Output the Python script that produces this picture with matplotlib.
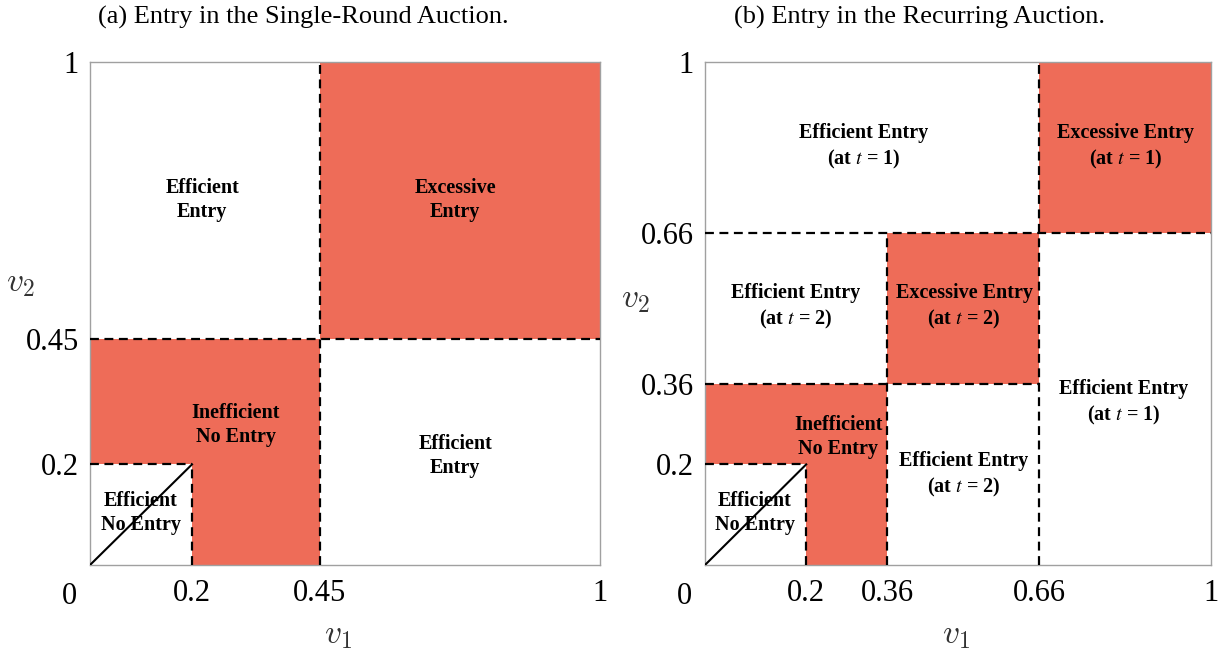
import matplotlib
matplotlib.use("Agg")
import matplotlib.pyplot as plt
from matplotlib.patches import Rectangle

plt.rcParams['font.family'] = ['Liberation Serif', 'DejaVu Serif']
plt.rcParams['mathtext.fontset'] = 'stix'

# thresholds
single_cut_low = 0.2
single_cut_high = 0.45
rec_cut_low = 0.2
rec_cut_mid = 0.36
rec_cut_high = 0.66

titles = ["(a) Entry in the Single-Round Auction.", "(b) Entry in the Recurring Auction."]
left_ticks = [0.2, 0.45, 1]
left_ticklabels = ["0.2", "0.45", "1"]
right_ticks = [0.2, 0.36, 0.66, 1]
right_ticklabels = ["0.2", "0.36", "0.66", "1"]

left_labels = [
    ("Efficient\nEntry", 0.22, 0.726),
    ("Excessive\nEntry", 0.716, 0.726),
    ("Inefficient\nNo Entry", 0.286, 0.278),
    ("Efficient\nEntry", 0.716, 0.217),
    ("Efficient\nNo Entry", 0.10, 0.103),
]
right_labels = [
    ("Efficient Entry\n(at $t$ = 1)", 0.314, 0.831),
    ("Excessive Entry\n(at $t$ = 1)", 0.832, 0.831),
    ("Efficient Entry\n(at $t$ = 2)", 0.18, 0.513),
    ("Excessive Entry\n(at $t$ = 2)", 0.512, 0.513),
    ("Efficient Entry\n(at $t$ = 1)", 0.828, 0.322),
    ("Inefficient\nNo Entry", 0.263, 0.254),
    ("Efficient Entry\n(at $t$ = 2)", 0.512, 0.179),
    ("Efficient\nNo Entry", 0.099, 0.103),
]

RED = "#EE6C58"
DASH = (0, (4, 2.5))
LW = 1.6
TICKFS = 22
LABFS = 14.5

fig = plt.figure(figsize=(12.25, 6.52), dpi=100)
axL = fig.add_axes([90/1225, 87/652, 510/1225, 503/652])
axR = fig.add_axes([705/1225, 87/652, 506/1225, 503/652])

def setup(ax, ticks, ticklabels, v1pos, v2pos):
    ax.set_xlim(0, 1)
    ax.set_ylim(0, 1)
    ax.set_xticks(ticks)
    ax.set_xticklabels(ticklabels, fontsize=TICKFS)
    ax.set_yticks(ticks)
    ax.set_yticklabels(ticklabels, fontsize=TICKFS)
    ax.tick_params(axis='x', length=0, pad=10)
    ax.tick_params(axis='y', length=0, pad=8)
    for s in ax.spines.values():
        s.set_color("#A0A0A0")
        s.set_linewidth(1.0)
    ax.text(-0.04, -0.062, "0", transform=ax.transAxes, fontsize=TICKFS,
            ha='center', va='center')
    ax.text(v1pos[0], v1pos[1], "$v_1$", transform=ax.transAxes, fontsize=24,
            ha='center', va='center', math_fontfamily='cm', color='#333333')
    ax.text(v2pos[0], v2pos[1], "$v_2$", transform=ax.transAxes, fontsize=24,
            ha='center', va='center', math_fontfamily='cm', color='#333333')

def rect(ax, x0, x1, y0, y1):
    ax.add_patch(Rectangle((x0, y0), x1 - x0, y1 - y0, facecolor=RED,
                           edgecolor='none', zorder=1))

def hdash(ax, y, x0, x1):
    ax.plot([x0, x1], [y, y], color='black', lw=LW, linestyle=DASH, zorder=3,
            clip_on=False)

def vdash(ax, x, y0, y1):
    ax.plot([x, x], [y0, y1], color='black', lw=LW, linestyle=DASH, zorder=3,
            clip_on=False)

# Left panel
setup(axL, left_ticks, left_ticklabels, (0.486, -0.141), (-0.137, 0.56))
a, b = single_cut_low, single_cut_high
rect(axL, b, 1, b, 1)
rect(axL, 0, b, a, b)
rect(axL, a, b, 0, a)
hdash(axL, b, 0, 1)
vdash(axL, b, 0, 1)
hdash(axL, a, 0, a)
vdash(axL, a, 0, a)
axL.plot([0, a], [0, a], color='black', lw=1.5, zorder=3)
for txt, x, y in left_labels:
    axL.text(x, y, txt, ha='center', va='center', fontsize=LABFS,
             fontweight='bold', zorder=4, linespacing=1.25)

# Right panel
setup(axR, right_ticks, right_ticklabels, (0.496, -0.141), (-0.138, 0.527))
a, m, h = rec_cut_low, rec_cut_mid, rec_cut_high
rect(axR, h, 1, h, 1)
rect(axR, m, h, m, h)
rect(axR, 0, m, a, m)
rect(axR, a, m, 0, a)
hdash(axR, h, 0, 1)
vdash(axR, h, 0, 1)
hdash(axR, m, 0, h)
vdash(axR, m, 0, h)
hdash(axR, a, 0, a)
vdash(axR, a, 0, a)
axR.plot([0, a], [0, a], color='black', lw=1.5, zorder=3)
for txt, x, y in right_labels:
    axR.text(x, y, txt, ha='center', va='center', fontsize=LABFS,
             fontweight='bold', zorder=4, linespacing=1.25)

fig.text(303/1225, 1 - 17/652, titles[0], fontsize=19, ha='center', va='center')
fig.text(920/1225, 1 - 17/652, titles[1], fontsize=19, ha='center', va='center')

fig.savefig("out.png", dpi=100)
